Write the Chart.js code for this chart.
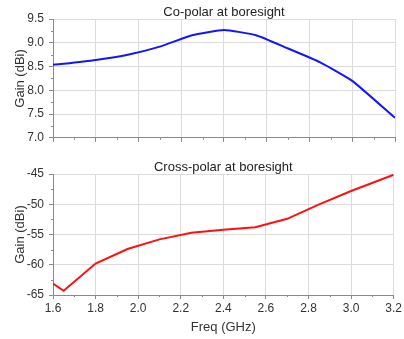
<!DOCTYPE html>
<html>
<head>
<meta charset="utf-8">
<script src="https://cdn.jsdelivr.net/npm/chart.js@4/dist/chart.umd.min.js"></script>
<style>
  body { margin: 0; background: #fff; }
  #wrap { position: relative; width: 404px; height: 339px; }
  #topBox { position: absolute; left: 0; top: 0; }
  #botBox { position: absolute; left: 0; top: 150px; }
</style>
</head>
<body>
<div id="wrap">
  <div id="topBox"><canvas id="coChart" width="404" height="150"></canvas></div>
  <div id="botBox"><canvas id="crossChart" width="404" height="189"></canvas></div>
</div>
<script>
// data
const freq = [1.6, 1.65, 1.8, 1.95, 2.1, 2.25, 2.4, 2.55, 2.7, 2.85, 3.0, 3.2];
const coPolar = [8.54, 8.56, 8.64, 8.75, 8.92, 9.16, 9.27, 9.16, 8.88, 8.59, 8.2, 7.42];
const crossPolar = [-63.1, -64.3, -59.8, -57.4, -55.8, -54.7, -54.2, -53.8, -52.4, -50.0, -47.8, -45.1];

const FONT = "Arial, 'Liberation Sans', sans-serif";
const AXIS_COLOR = '#8a8a8a';
const GRID_COLOR = '#dcdcdc';

// short ticks halfway between the major ones
const minorTicks = {
  id: 'minorTicks',
  afterDraw(chart) {
    const ctx = chart.ctx;
    const xs = chart.scales.x, ys = chart.scales.y;
    ctx.save();
    ctx.strokeStyle = AXIS_COLOR;
    ctx.lineWidth = 1;
    ctx.beginPath();
    for (let i = 0; i < xs.ticks.length - 1; i++) {
      const v = (xs.ticks[i].value + xs.ticks[i + 1].value) / 2;
      const px = Math.round(xs.getPixelForValue(v)) + 0.5;
      ctx.moveTo(px, xs.top);
      ctx.lineTo(px, xs.top + 2);
    }
    for (let i = 0; i < ys.ticks.length - 1; i++) {
      const v = (ys.ticks[i].value + ys.ticks[i + 1].value) / 2;
      const py = Math.round(ys.getPixelForValue(v)) + 0.5;
      ctx.moveTo(ys.right, py);
      ctx.lineTo(ys.right - 2, py);
    }
    ctx.stroke();
    ctx.restore();
  }
};

function makeChart(id, values, color, title, yMin, yMax, yStep, yDecimals, showX, titlePad, xHeight) {
  return new Chart(document.getElementById(id), {
    type: 'line',
    data: {
      datasets: [{
        data: freq.map((f, i) => ({ x: f, y: values[i] })),
        borderColor: color,
        borderWidth: 2,
        pointRadius: 0,
        fill: false,
        tension: id === 'coChart' ? 0.15 : 0
      }]
    },
    options: {
      responsive: false,
      animation: false,
      layout: { padding: { left: 0, right: 9, top: 0, bottom: 0 } },
      plugins: {
        legend: { display: false },
        tooltip: { enabled: false },
        title: {
          display: true,
          text: title,
          fullSize: false,
          color: '#222',
          font: { family: FONT, size: 13, weight: 'normal' },
          padding: { top: titlePad, bottom: -1.5 }
        }
      },
      scales: {
        x: {
          type: 'linear',
          min: 1.6,
          max: 3.2,
          afterFit: s => { s.height = xHeight; },
          grid: { color: GRID_COLOR, tickColor: AXIS_COLOR, tickLength: 4 },
          border: { color: AXIS_COLOR },
          ticks: {
            display: showX,
            stepSize: 0.2,
            color: '#333',
            padding: 2,
            maxRotation: 0,
            autoSkip: false,
            font: { family: FONT, size: 12 },
            callback: v => v.toFixed(1)
          },
          title: {
            display: showX,
            text: 'Freq (GHz)',
            color: '#333',
            font: { family: FONT, size: 13 },
            padding: { top: 0, bottom: 4 }
          }
        },
        y: {
          min: yMin,
          max: yMax,
          afterFit: s => { s.width = 53; },
          grid: { color: GRID_COLOR, tickColor: AXIS_COLOR, tickLength: 4 },
          border: { color: AXIS_COLOR },
          ticks: {
            stepSize: yStep,
            color: '#333',
            padding: 5,
            font: { family: FONT, size: 12 },
            callback: v => v.toFixed(yDecimals)
          },
          title: {
            display: true,
            text: 'Gain (dBi)',
            color: '#333',
            font: { family: FONT, size: 13 },
            padding: { top: 13, bottom: 0 }
          }
        }
      }
    },
    plugins: [minorTicks]
  });
}

const coChart = makeChart('coChart', coPolar, '#1414ff', 'Co-polar at boresight', 7.0, 9.5, 0.5, 1, false, 5, 11);
const crossChart = makeChart('crossChart', crossPolar, '#ff1010', 'Cross-polar at boresight', -65, -45, 5, 0, true, 10, 44);
</script>
</body>
</html>
